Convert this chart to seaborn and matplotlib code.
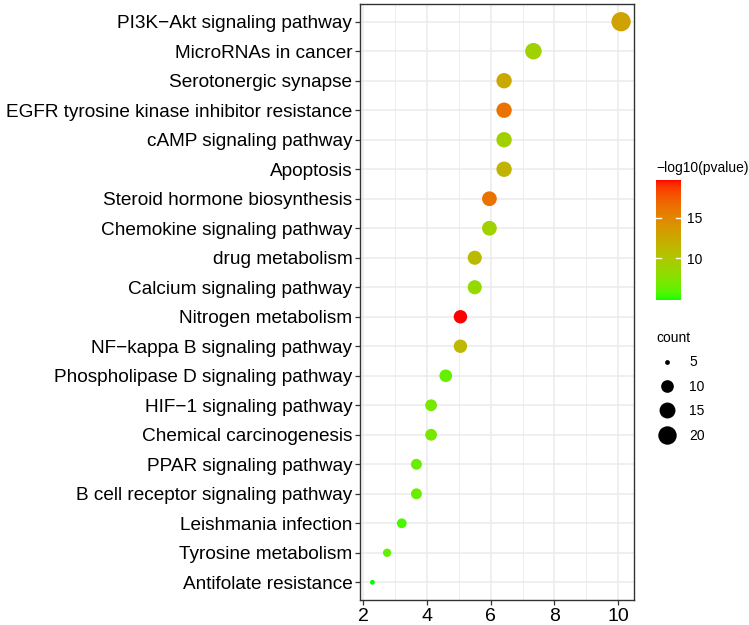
import numpy as np
import pandas as pd
import matplotlib
matplotlib.use("Agg")
import matplotlib.pyplot as plt
import seaborn as sns
from matplotlib.colors import ListedColormap, Normalize
from matplotlib.cm import ScalarMappable
from matplotlib.lines import Line2D

pathways = [
    "PI3K\u2212Akt signaling pathway",
    "MicroRNAs in cancer",
    "Serotonergic synapse",
    "EGFR tyrosine kinase inhibitor resistance",
    "cAMP signaling pathway",
    "Apoptosis",
    "Steroid hormone biosynthesis",
    "Chemokine signaling pathway",
    "drug metabolism",
    "Calcium signaling pathway",
    "Nitrogen metabolism",
    "NF\u2212kappa B signaling pathway",
    "Phospholipase D signaling pathway",
    "HIF\u22121 signaling pathway",
    "Chemical carcinogenesis",
    "PPAR signaling pathway",
    "B cell receptor signaling pathway",
    "Leishmania infection",
    "Tyrosine metabolism",
    "Antifolate resistance",
]
counts = [22, 16, 14, 14, 14, 14, 13, 13, 12, 12, 11, 11, 10, 9, 9, 8, 8, 7, 6, 5]
ratio = [10.09, 7.34, 6.42, 6.42, 6.42, 6.42, 5.96, 5.96, 5.50, 5.50,
         5.05, 5.05, 4.59, 4.13, 4.13, 3.67, 3.67, 3.21, 2.75, 2.29]
neglogp = [13.0, 9.0, 12.5, 16.2, 9.2, 11.6, 16.2, 9.0, 11.0, 8.3,
           19.7, 11.2, 6.3, 7.0, 7.0, 6.5, 6.5, 5.6, 6.2, 4.8]
size_legend = [5, 10, 15, 20]
cbar_ticks = [10, 15]

df = pd.DataFrame({"pathway": pathways, "ratio": ratio, "count": counts, "logp": neglogp})

# ---- ggplot-like green->red gradient interpolated in CIELAB ----
WP = np.array([0.95047, 1.0, 1.08883])
M = np.array([[0.4124, 0.3576, 0.1805], [0.2126, 0.7152, 0.0722], [0.0193, 0.1192, 0.9505]])
Minv = np.linalg.inv(M)

def srgb2lab(c):
    c = np.asarray(c, float)
    lin = np.where(c <= 0.04045, c / 12.92, ((c + 0.055) / 1.055) ** 2.4)
    t = (M @ lin) / WP
    d = 6 / 29
    f = np.where(t > d ** 3, np.cbrt(t), t / (3 * d * d) + 4 / 29)
    return np.array([116 * f[1] - 16, 500 * (f[0] - f[1]), 200 * (f[1] - f[2])])

def lab2srgb(lab):
    L, a, b = lab
    fy = (L + 16) / 116
    fx = fy + a / 500
    fz = fy - b / 200
    d = 6 / 29
    f = np.array([fx, fy, fz])
    t = np.where(f > d, f ** 3, 3 * d * d * (f - 4 / 29))
    lin = Minv @ (t * WP)
    lin = np.clip(lin, 0, 1)
    c = np.where(lin <= 0.0031308, 12.92 * lin, 1.055 * lin ** (1 / 2.4) - 0.055)
    return np.clip(c, 0, 1)

lo, hi = srgb2lab([0, 1, 0]), srgb2lab([1, 0, 0])
cols = [lab2srgb(lo + (hi - lo) * s) for s in np.linspace(0, 1, 256)]
cmap = ListedColormap(cols)
vmin, vmax = min(neglogp), max(neglogp)
norm = Normalize(vmin, vmax)

def diam_px(c):
    return 4.8 + 14.5 * np.sqrt(max(c - min(counts), 0) / (max(counts) - min(counts)))

def area_pt(c):
    return (diam_px(c) * 0.72) ** 2

sizes = {c: area_pt(c) for c in sorted(set(counts))}

plt.rcParams["font.family"] = ["Liberation Sans", "DejaVu Sans"]

fig = plt.figure(figsize=(7.49, 6.25), dpi=100)
ax = fig.add_axes([360 / 749, 1 - 600 / 625, (633.5 - 360) / 749, (600 - 4) / 625])

sns.scatterplot(data=df, x="ratio", y="pathway", hue="logp", palette=cmap, hue_norm=(vmin, vmax),
                size="count", sizes=sizes, legend=False, ax=ax, edgecolor="none", linewidth=0, zorder=3)

n = len(pathways)
ax.set_ylim(n - 1 + 0.6, -0.6)
xr = max(ratio) - min(ratio)
ax.set_xlim(min(ratio) - 0.05 * xr, max(ratio) + 0.05 * xr)
ax.set_xticks([2, 4, 6, 8, 10])
ax.set_xticks([3, 5, 7, 9], minor=True)
ax.set_xlabel("")
ax.set_ylabel("")
ax.set_facecolor("white")
ax.grid(True, which="major", color="#EBEBEB", lw=1.1, zorder=0)
ax.grid(True, which="minor", axis="x", color="#EBEBEB", lw=0.6, zorder=0)
ax.set_axisbelow(True)
for s in ax.spines.values():
    s.set_color("#333333")
    s.set_linewidth(1.0)
ax.tick_params(axis="both", which="major", length=3.5, width=0.9, color="#333333",
               labelsize=13, labelcolor="black", pad=2)
ax.tick_params(axis="y", which="major", labelsize=13.7)
ax.tick_params(axis="x", which="major", labelsize=14)
ax.tick_params(axis="x", which="minor", length=0)

# colorbar
cax = fig.add_axes([656 / 749, 1 - 300 / 625, 25 / 749, 120 / 625])
cb = fig.colorbar(ScalarMappable(norm=norm, cmap=cmap), cax=cax, ticks=cbar_ticks)
cb.outline.set_visible(False)
cax.tick_params(length=0, labelsize=10, pad=4, labelcolor="black")
for v in cbar_ticks:
    cax.plot([0, 0.2], [v, v], color="white", lw=1, transform=cax.get_yaxis_transform())
    cax.plot([0.8, 1.0], [v, v], color="white", lw=1, transform=cax.get_yaxis_transform())
fig.text(656 / 749, 1 - 168 / 625, "\u2212log10(pvalue)", fontsize=10, va="center", ha="left")

# size legend
handles = [Line2D([], [], marker="o", linestyle="none", color="black",
                  markersize=diam_px(c) * 0.72, markeredgewidth=0) for c in size_legend]
leg = fig.legend(handles, [str(c) for c in size_legend], title="count", loc="upper left",
                 bbox_to_anchor=(656 / 749, 1 - 331 / 625), frameon=False, fontsize=10,
                 title_fontsize=10, labelspacing=0.75, handletextpad=0.8, handlelength=1.6,
                 alignment="left", borderaxespad=0, borderpad=0)

fig.savefig("out.png", dpi=100)
